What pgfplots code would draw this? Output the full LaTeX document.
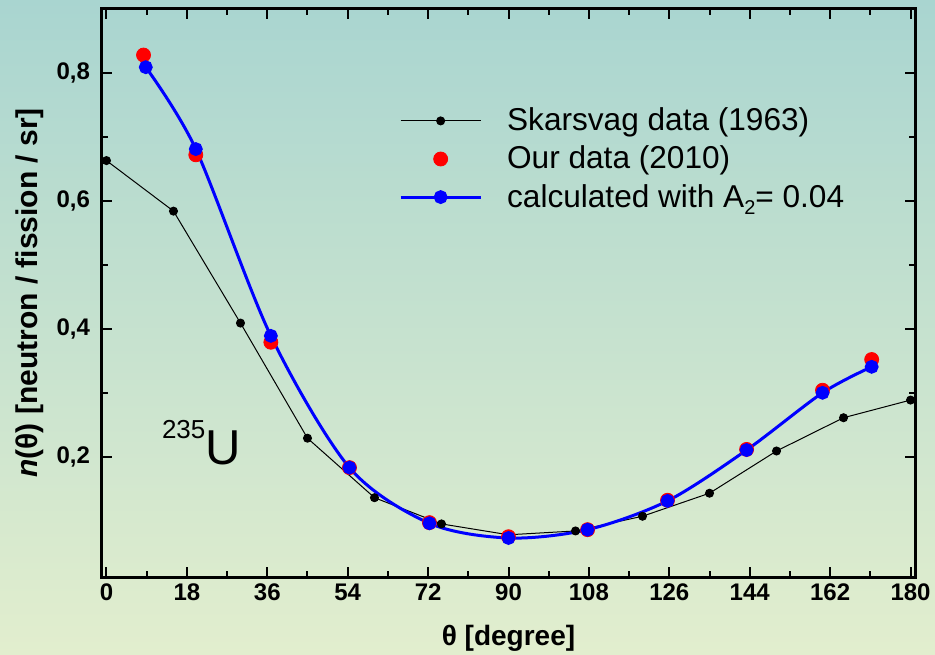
\documentclass[border=0pt]{standalone}
\usepackage{pgfplots}
\pgfplotsset{compat=1.18}
\usepackage{fontspec}
\setmainfont{Liberation Sans}
\definecolor{bgtop}{RGB}{169,213,208}
\definecolor{bgbot}{RGB}{226,238,206}
\begin{document}
\begin{tikzpicture}
\shade[top color=bgtop, bottom color=bgbot] (-51pt,-38.5pt) rectangle (416.5pt,288.5pt);
\begin{axis}[
  at={(0,0)}, anchor=south west,
  scale only axis, width=406.5pt, height=284pt,
  xmin=-1, xmax=181, ymin=0.012, ymax=0.9,
  xtick={0,18,...,180}, minor x tick num=1,
  ytick={0.2,0.4,0.6,0.8}, minor y tick num=1,
  tick align=inside, major tick length=5pt, minor tick length=3pt,
  xtick pos=both, ytick pos=both, xticklabel pos=lower, yticklabel pos=left,
  axis line style={line width=1.5pt},
  every tick/.style={black, line width=1pt},
  ticklabel style={font=\fontsize{12}{14}\selectfont\bfseries},
  /pgf/number format/assume math mode=true,
  /pgf/number format/use comma,
  yticklabel style={/pgf/number format/fixed, /pgf/number format/precision=1, /pgf/number format/fixed zerofill, xshift=-2.5pt},
  xlabel={θ [degree]},
  ylabel={\textit{n}(θ) [neutron / fission / sr]},
  xlabel style={font=\fontsize{14}{16}\selectfont\bfseries, at={(axis description cs:0.5,0)}, anchor=center, yshift=-30.5pt},
  ylabel style={font=\fontsize{15}{17}\selectfont\bfseries, at={(axis description cs:0,0.5)}, anchor=center, yshift=36pt},
  legend style={draw=none, fill=none, at={(rel axis cs:0.365,0.830)}, anchor=north west,
    font=\fontsize{15.8}{18}\selectfont, inner sep=0pt, row sep=4.1pt, column sep=11.5pt,
    nodes={inner sep=1pt}},
  legend cell align=left,
  legend image code/.code={\draw[mark repeat=2,mark phase=2,#1] plot coordinates {(0pt,0pt) (20pt,0pt) (40pt,0pt)};},
]
\addplot[black, line width=0.5pt, mark=*, mark size=2pt, mark options={fill=black}] coordinates {
 (0,0.663) (15,0.584) (30,0.409) (45,0.229) (60,0.136) (75,0.095) (90,0.078)
 (105,0.084) (120,0.107) (135,0.143) (150,0.209) (165,0.261) (180,0.2886)};
\addlegendentry{Skarsvag data (1963)}
\addplot[only marks, mark=*, mark size=3.5pt, red, mark options={fill=red, draw=red}] coordinates {
 (8.3,0.828) (20.0,0.672) (36.8,0.379) (54.4,0.183) (72.3,0.097) (90,0.075)
 (107.7,0.086) (125.6,0.132) (143.3,0.2115) (160.3,0.304) (171.3,0.352)};
\addlegendentry{Our data (2010)}
\addplot[blue, line width=1.5pt, smooth, mark=*, mark size=2.7pt, mark options={fill=blue, draw=blue}] coordinates {
 (8.8,0.809) (20.0,0.681) (36.8,0.389) (54.4,0.183) (72.3,0.096) (90,0.073)
 (107.7,0.086) (125.6,0.131) (143.3,0.2105) (160.3,0.300) (171.3,0.3406)};
\addlegendentry{calculated with A\raisebox{-0.45ex}{\fontsize{10}{12}\selectfont 2}= 0.04}
\node[anchor=base west, inner sep=0pt] at (axis cs:12.35,0.1886)
  {\raisebox{13pt}{\fontsize{13}{15}\selectfont 235}\fontsize{24.5}{28}\selectfont U};
\end{axis}
\pgfresetboundingbox
\useasboundingbox (-51pt,-38.5pt) rectangle (416.5pt,288.5pt);
\end{tikzpicture}
\end{document}
